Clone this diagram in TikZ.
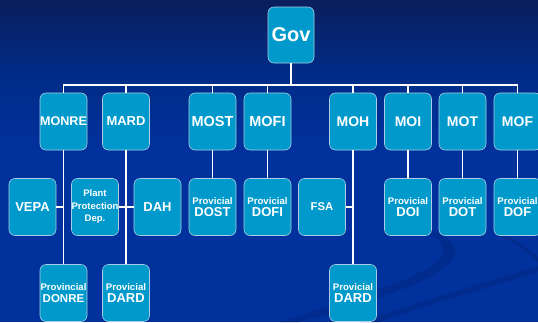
\documentclass[tikz,border=0pt]{standalone}
\usepackage{fontspec}
\setmainfont{Liberation Sans}
\definecolor{bgtop}{HTML}{0A1E5C}
\definecolor{bgmid}{HTML}{002C88}
\definecolor{bgbot}{HTML}{00319C}
\definecolor{swoosh}{HTML}{022A88}
\definecolor{boxfill}{HTML}{0099CC}
\definecolor{boxline}{HTML}{A8CCE4}
\newcommand\twoline[3][13]{{\fontsize{9.6}{15}\selectfont #2}\\{\fontsize{#1}{15}\selectfont #3}}
\begin{document}
\begin{tikzpicture}[x=1pt,y=-1pt,
  orgbox/.style={draw=boxline, line width=0.6pt, fill=boxfill, rounded corners=6pt,
    minimum width=47pt, minimum height=57pt, inner sep=0pt, text=white,
    font=\bfseries, align=center},
  conn/.style={draw=white, line width=1.2pt},
  fs/.style={font=\fontsize{#1}{15}\selectfont\bfseries}]
% background
\fill[bgbot] (0,0) rectangle (538,322);
\shade[top color=bgtop, bottom color=bgbot, middle color=bgmid] (0,0) rectangle (538,150);
\useasboundingbox (0,0) rectangle (538,322);
% swooshes
\fill[swoosh, opacity=0.8] (300,322) .. controls (380,300) and (450,275) .. (455,255)
  .. controls (458,240) and (440,232) .. (420,228)
  .. controls (438,236) and (446,246) .. (442,256)
  .. controls (430,276) and (360,296) .. (280,322) -- cycle;
\fill[swoosh, opacity=0.8] (380,322) .. controls (440,300) and (500,285) .. (538,272)
  -- (538,266) .. controls (500,278) and (430,298) .. (360,322) -- cycle;
\fill[swoosh, opacity=0.7] (500,236) .. controls (520,245) and (530,255) .. (538,262)
  -- (538,256) .. controls (528,248) and (515,240) .. (505,234) -- cycle;
% nodes
\node[orgbox, minimum width=46pt, minimum height=56pt, fs=20] (gov) at (291,35) {Gov};
\coordinate (bus) at (0,85);
\node[orgbox, fs=12.6] (monre) at (63.5,121.5) {MONRE};
\node[orgbox, fs=13] (mard) at (126,121.5) {MARD};
\node[orgbox, fs=14.5] (most) at (212.5,121.5) {MOST};
\node[orgbox, fs=14.5] (mofi) at (267.5,121.5) {MOFI};
\node[orgbox, fs=14] (moh) at (353,121.5) {MOH};
\node[orgbox, fs=14] (moi) at (408,121.5) {MOI};
\node[orgbox, fs=14] (mot) at (462.5,121.5) {MOT};
\node[orgbox, fs=14] (mof) at (517.5,121.5) {MOF};
%
\node[orgbox, fs=13] (vepa) at (32.5,207) {VEPA};
\node[orgbox, font=\fontsize{9.5}{12.5}\selectfont\bfseries] (ppd) at (95,207) {Plant\\Protection\\Dep.};
\node[orgbox, fs=13] (dah) at (157.5,207) {DAH};
\node[orgbox] (pdost) at (212.5,207) {\twoline{Provicial}{DOST}};
\node[orgbox] (pdofi) at (267.5,207) {\twoline{Provicial}{DOFI}};
\node[orgbox, fs=11.3] (fsa) at (322,207) {FSA};
\node[orgbox] (pdoi) at (408,207) {\twoline{Provicial}{DOI}};
\node[orgbox] (pdot) at (462.5,207) {\twoline{Provicial}{DOT}};
\node[orgbox] (pdof) at (517.5,207) {\twoline{Provicial}{DOF}};
%
\node[orgbox] (pdonre) at (63.5,293) {\twoline[11.5]{Provincial}{DONRE}};
\node[orgbox] (pdard) at (126,293) {\twoline{Provicial}{DARD}};
\node[orgbox] (pdardh) at (353,293) {\twoline{Provicial}{DARD}};
% connectors
\draw[draw=white, line width=2.6pt] (gov.south) -- (gov.south |- bus);
\foreach \c in {monre,mard,most,mofi,moh,moi,mot,mof}
  \draw[conn] (gov.south |- bus) -| (\c.north);
\draw[conn] (monre.south) -- (pdonre.north);
\draw[conn] (vepa.east) -- (vepa.east -| monre.south);
\draw[conn] (mard.south) -- (pdard.north);
\draw[conn] (ppd.east) -- (dah.west);
\draw[conn] (moh.south) -- (pdardh.north);
\draw[conn] (fsa.east) -- (fsa.east -| moh.south);
\draw[conn] (most.south) -- (pdost.north);
\draw[conn] (mofi.south) -- (pdofi.north);
\draw[conn] (moi.south) -- (pdoi.north);
\draw[conn] (mot.south) -- (pdot.north);
\draw[conn] (mof.south) -- (pdof.north);
\end{tikzpicture}
\end{document}
